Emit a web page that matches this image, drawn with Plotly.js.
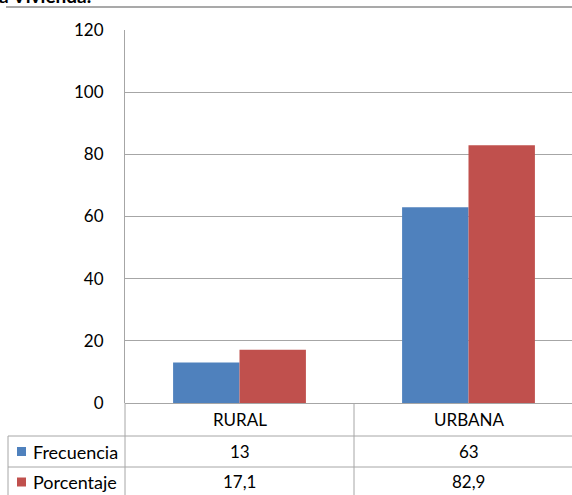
<!DOCTYPE html>
<html>
<head>
<meta charset="utf-8">
<script src="https://cdn.plot.ly/plotly-3.0.1.min.js"></script>
<style>html,body{margin:0;padding:0;background:#fff;}#chart{width:572px;height:495px;}</style>
</head>
<body>
<div id="chart"></div>
<script>
var categories = ["RURAL", "URBANA"];
var seriesNames = ["Frecuencia", "Porcentaje"];
var frecuencia = [13, 63];
var porcentaje = [17.1, 82.9];
var yTicks = [0, 20, 40, 60, 80, 100, 120];
var titleText = "a Vivienda.";

var colors = ["#4F81BD", "#C0504D"];
var W = 572, H = 495, mL = 125, mT = 30, mB = 92, mR = 0;
var plotW = W - mL - mR, plotH = H - mT - mB;
function py(p) { return (H - mB - p) / plotH; }
function px(p) { return (p - mL) / plotW; }
function fmt(v) { return String(v).replace('.', ','); }

var font = "Lato, 'Open Sans', sans-serif";
var gridColor = "#A6A6A6";
var seriesValues = [frecuencia, porcentaje];

var traces = seriesNames.map(function (n, i) {
  return { type: "bar", name: n, x: categories, y: seriesValues[i],
    marker: { color: colors[i] }, hoverinfo: "x+y" };
});

var shapes = [], annotations = [];
// table horizontal lines
[436, 467].forEach(function (p) {
  shapes.push({ type: "line", xref: "paper", yref: "paper", x0: px(8), x1: 1, y0: py(p), y1: py(p), line: { color: gridColor, width: 1 } });
});
// table vertical lines
shapes.push({ type: "line", xref: "paper", yref: "paper", x0: px(8), x1: px(8), y0: py(436), y1: py(500), line: { color: gridColor, width: 1 } });
shapes.push({ type: "line", xref: "paper", yref: "paper", x0: 0, x1: 0, y0: 0, y1: py(500), line: { color: gridColor, width: 1 } });
shapes.push({ type: "line", xref: "x", yref: "paper", x0: 0.5, x1: 0.5, y0: 0, y1: py(500), line: { color: gridColor, width: 1 } });
// top rule
shapes.push({ type: "line", xref: "paper", yref: "paper", x0: px(6), x1: 1, y0: py(7), y1: py(7), line: { color: "#8C8C8C", width: 1.5 } });

// title remnant (clipped at top)
annotations.push({ xref: "paper", yref: "paper", x: px(-3), y: py(9), xanchor: "left", yanchor: "bottom",
  text: "<b>" + titleText + "</b>", showarrow: false, font: { family: font, size: 19, color: "#000" } });

var tf = { family: font, size: 17, color: "#000" };
// category row
categories.forEach(function (c) {
  annotations.push({ xref: "x", yref: "paper", x: c, y: py(419.5), yanchor: "middle", xanchor: "center",
    text: c, showarrow: false, font: tf });
});
var rowCenters = [451.5, 482];
seriesNames.forEach(function (n, i) {
  // legend key
  shapes.push({ type: "rect", xref: "paper", yref: "paper", x0: px(17), x1: px(26), y0: py(rowCenters[i] - 4.5), y1: py(rowCenters[i] + 4.5),
    fillcolor: colors[i], line: { width: 0 } });
  annotations.push({ xref: "paper", yref: "paper", x: px(31), y: py(rowCenters[i]), xanchor: "left", yanchor: "middle",
    text: n, showarrow: false, font: { family: font, size: 18, color: "#000" } });
  categories.forEach(function (c, j) {
    annotations.push({ xref: "x", yref: "paper", x: c, y: py(rowCenters[i]), xanchor: "center", yanchor: "middle",
      text: fmt(seriesValues[i][j]), showarrow: false, font: tf });
  });
});

var layout = {
  width: W, height: H,
  margin: { l: mL, r: mR, t: mT, b: mB, pad: 0 },
  paper_bgcolor: "#fff", plot_bgcolor: "#fff",
  showlegend: false,
  barmode: "group", bargap: 0.42, bargroupgap: 0,
  xaxis: { type: "category", range: [-0.5, -0.5 + plotW / 229], showticklabels: false, showgrid: false,
    zeroline: false, showline: false, ticks: "" , fixedrange: true},
  yaxis: { range: [0, 120], tickvals: yTicks, ticktext: yTicks.map(String), showgrid: true, gridcolor: gridColor, gridwidth: 1,
    zeroline: true, zerolinecolor: gridColor, zerolinewidth: 1, showline: true, linecolor: gridColor, linewidth: 1,
    ticks: "", ticklabelstandoff: 17, tickfont: { family: font, size: 17, color: "#000" }, fixedrange: true },
  shapes: shapes,
  annotations: annotations,
  font: { family: font }
};

Plotly.newPlot("chart", traces, layout, { displayModeBar: false, staticPlot: true });
</script>
</body>
</html>
